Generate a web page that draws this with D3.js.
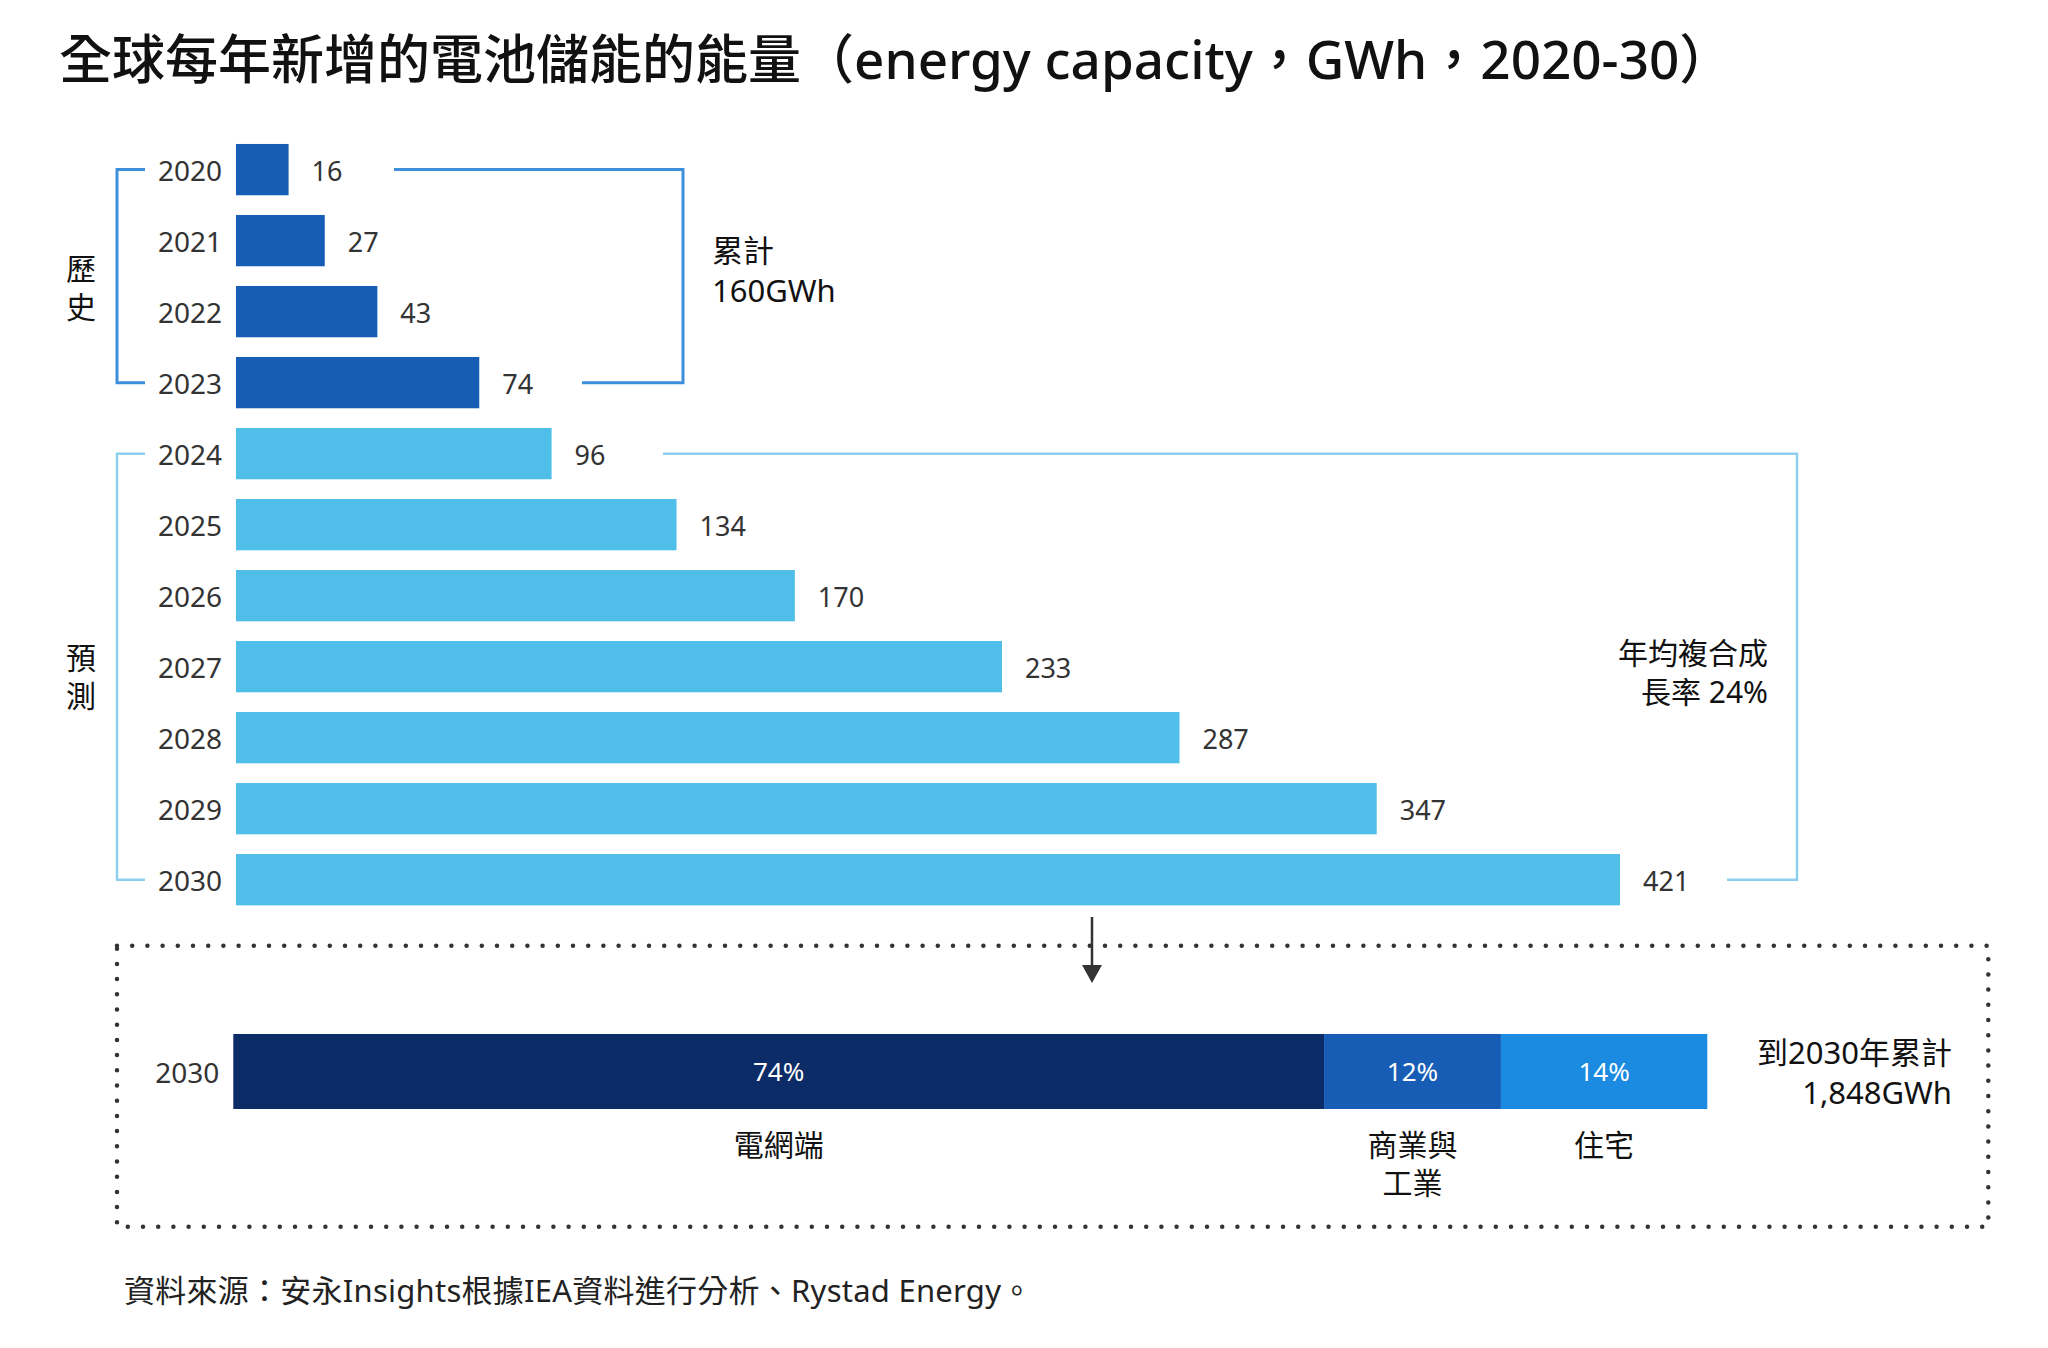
<!DOCTYPE html>
<html>
<head>
<meta charset="utf-8">
<script src="https://cdn.jsdelivr.net/npm/d3@7"></script>
<style>
  body { margin: 0; background: #fff; }
  svg { display: block; }
  text { font-family: "Noto Sans", "Noto Sans CJK TC", sans-serif; }
</style>
</head>
<body>
<svg id="chart"></svg>
<script>
// yearly additions, GWh
const years = ["2020", "2021", "2022", "2023", "2024", "2025", "2026", "2027", "2028", "2029", "2030"];
const capacity = [16, 27, 43, 74, 96, 134, 170, 233, 287, 347, 421];
const historyYears = ["2020", "2021", "2022", "2023"];

// 2030 split by segment, %
const segments = ["電網端", "商業與|工業", "住宅"];
const shares = [74, 12, 14];

const W = 2048, H = 1348;
const svg = d3.select("#chart").attr("width", W).attr("height", H);

const barBlue = "#165db5", barLight = "#4fbfea";
const segColors = ["#0b2c66", "#175db5", "#1a8be0"];
const textGray = "#333333";

// title
svg.append("text")
  .attr("x", 59).attr("y", 79)
  .attr("font-size", 53).attr("font-weight", 500).attr("fill", "#111")
  .text("全球每年新增的電池儲能的能量（energy capacity，GWh，2020-30）");

let data = years.map((d, i) => ({ year: d, value: capacity[i], hist: historyYears.includes(d) }));

let x = d3.scaleLinear().domain([0, 421]).range([236, 1620]);
let y = d3.scaleBand().domain(years).range([134.1, 915.2]).paddingInner(0.2777).paddingOuter(0.1389);
let bw = y.bandwidth();

let g = svg.append("g");

g.selectAll(".bar")
  .data(data)
  .join("rect")
  .attr("class", "bar")
  .attr("x", x(0))
  .attr("y", d => y(d.year))
  .attr("width", d => x(d.value) - x(0))
  .attr("height", bw)
  .attr("fill", d => d.hist ? barBlue : barLight);

g.selectAll(".val")
  .data(data)
  .join("text")
  .attr("class", "val")
  .attr("x", d => x(d.value) + 23)
  .attr("y", d => y(d.year) + bw / 2)
  .attr("dy", "0.42em")
  .attr("font-size", 27)
  .attr("fill", textGray)
  .text(d => d.value);

// year axis
let yAxis = g.append("g")
  .attr("transform", `translate(${x(0)},0)`)
  .call(d3.axisLeft(y).tickSize(0).tickPadding(14));
yAxis.select(".domain").remove();
yAxis.selectAll("text")
  .attr("dy", "0.42em")
  .attr("font-size", 28)
  .attr("fill", textGray)
  .attr("font-family", "Noto Sans, sans-serif");

// brackets
function mid(yr) { return y(yr) + bw / 2; }

let histTop = mid("2020"), histBot = mid("2023");
let fcTop = mid("2024"), fcBot = mid("2030");

let brackets = svg.append("g").attr("fill", "none");
brackets.append("path")
  .attr("d", `M145,${histTop}H117V${histBot}H145`)
  .attr("stroke", "#3d8fdc").attr("stroke-width", 3);
brackets.append("path")
  .attr("d", `M394,${histTop}H683V${histBot}H582`)
  .attr("stroke", "#3d8fdc").attr("stroke-width", 3);
brackets.append("path")
  .attr("d", `M145,${fcTop}H117V${fcBot}H145`)
  .attr("stroke", "#8dcfee").attr("stroke-width", 2.5);
brackets.append("path")
  .attr("d", `M663,${fcTop}H1797V${fcBot}H1727`)
  .attr("stroke", "#8dcfee").attr("stroke-width", 2.5);

// side labels
function vlabel(chars, cx, cy) {
  svg.append("g").selectAll("text")
    .data(chars)
    .join("text")
    .attr("x", cx)
    .attr("y", (d, i) => cy + (i - (chars.length - 1) / 2) * 38)
    .attr("dy", "0.36em")
    .attr("text-anchor", "middle")
    .attr("font-size", 30)
    .attr("font-family", "Noto Sans CJK TC, sans-serif")
    .attr("fill", "#111")
    .text(d => d);
}
vlabel(["歷", "史"], 81, 288);
vlabel(["預", "測"], 81, 677);

function block(lines, tx, ty, anchor, size, lh) {
  let t = svg.append("text")
    .attr("x", tx).attr("y", ty)
    .attr("text-anchor", anchor)
    .attr("font-size", size)
    .attr("fill", "#111");
  lines.forEach((l, i) => {
    t.append("tspan").attr("x", tx).attr("dy", i === 0 ? 0 : lh).text(l);
  });
}
block(["累計", "160GWh"], 712, 262, "start", 31, 40);
block(["年均複合成", "長率 24%"], 1768, 664, "end", 30, 39);

// arrow down to the 2030 split
svg.append("line")
  .attr("x1", 1092).attr("x2", 1092).attr("y1", 917).attr("y2", 968)
  .attr("stroke", "#333").attr("stroke-width", 2.5);
svg.append("path")
  .attr("d", "M1082,965L1102,965L1092,983Z")
  .attr("fill", "#333");

// dotted frame
svg.append("rect")
  .attr("x", 117).attr("y", 945.7)
  .attr("width", 1988.3 - 117).attr("height", 1226.7 - 945.7)
  .attr("fill", "none")
  .attr("stroke", "#333")
  .attr("stroke-width", 4.5)
  .attr("stroke-linecap", "round")
  .attr("stroke-dasharray", "0 15.2");

// stacked 2030 bar
let xs = d3.scaleLinear().domain([0, 100]).range([233.3, 1707.3]);
let ys = d3.scaleBand().domain(["2030"]).range([1034, 1109]);

let acc = 0;
let segData = segments.map((s, i) => {
  let d = { name: s, value: shares[i], x0: acc, x1: acc + shares[i], color: segColors[i] };
  acc += shares[i];
  return d;
});

let sg = svg.append("g");
sg.selectAll("rect")
  .data(segData)
  .join("rect")
  .attr("x", d => xs(d.x0))
  .attr("y", ys("2030"))
  .attr("width", d => xs(d.x1) - xs(d.x0))
  .attr("height", ys.bandwidth())
  .attr("fill", d => d.color);

sg.selectAll(".pct")
  .data(segData)
  .join("text")
  .attr("class", "pct")
  .attr("x", d => xs((d.x0 + d.x1) / 2))
  .attr("y", ys("2030") + ys.bandwidth() / 2)
  .attr("dy", "0.38em")
  .attr("text-anchor", "middle")
  .attr("font-size", 26)
  .attr("fill", "#fff")
  .text(d => d.value + "%");

sg.selectAll(".seg")
  .data(segData)
  .join("text")
  .attr("class", "seg")
  .attr("text-anchor", "middle")
  .attr("font-size", 30)
  .attr("font-family", "Noto Sans CJK TC, sans-serif")
  .attr("fill", "#111")
  .each(function (d) {
    let cx = xs((d.x0 + d.x1) / 2);
    d3.select(this).selectAll("tspan")
      .data(d.name.split("|"))
      .join("tspan")
      .attr("x", cx)
      .attr("y", (l, i) => 1156 + i * 38)
      .text(l => l);
  });

let ysAxis = svg.append("g")
  .attr("transform", `translate(${xs(0)},0)`)
  .call(d3.axisLeft(ys).tickSize(0).tickPadding(14));
ysAxis.select(".domain").remove();
ysAxis.selectAll("text")
  .attr("dy", "0.4em")
  .attr("font-size", 28)
  .attr("fill", textGray)
  .attr("font-family", "Noto Sans, sans-serif");

block(["到2030年累計", "1,848GWh"], 1952, 1064, "end", 31, 40);

// source
svg.append("text")
  .attr("x", 124).attr("y", 1302)
  .attr("font-size", 31)
  .attr("letter-spacing", 0.25)
  .attr("fill", "#222")
  .text("資料來源：安永Insights根據IEA資料進行分析、Rystad Energy。");
</script>
</body>
</html>
